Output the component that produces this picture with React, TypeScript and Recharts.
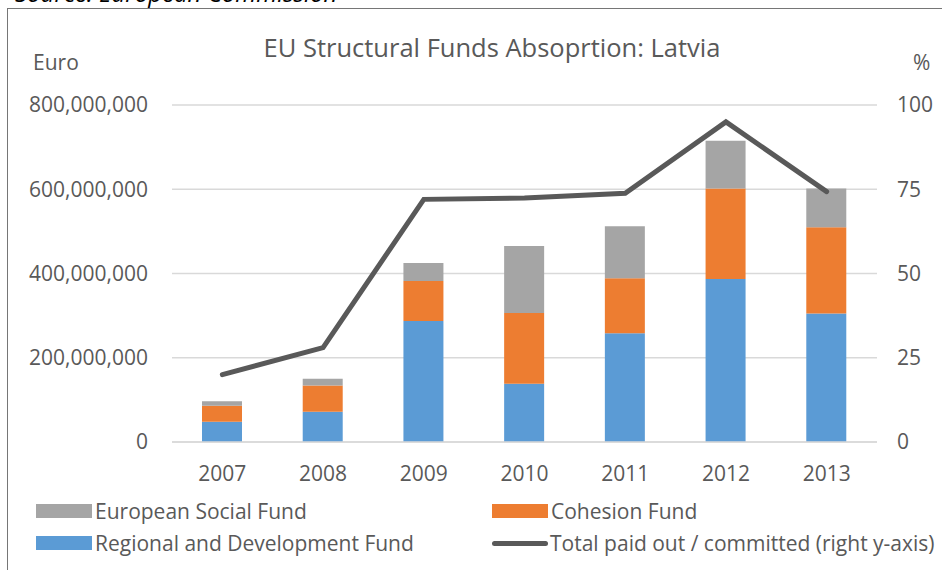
import React from "react";
import {
  ComposedChart,
  Bar,
  Line,
  XAxis,
  YAxis,
  CartesianGrid,
} from "recharts";

const years = ["2007", "2008", "2009", "2010", "2011", "2012", "2013"];
// euro, millions
const regionalFund = [48, 72, 287, 138, 258, 387, 305];
const cohesionFund = [38, 62, 95, 168, 131, 215, 205];
const socialFund = [11, 16, 43, 159, 123, 113, 92];
// percent paid out / committed
const paidShare = [20, 28, 72, 72.4, 73.8, 95, 74.3];

const euroTicks = [0, 200e6, 400e6, 600e6, 800e6];
const pctTicks = [0, 25, 50, 75, 100];

const FONT = "'Open Sans', sans-serif";
const TEXT = "#595959";
const BLUE = "#5B9BD5";
const ORANGE = "#ED7D31";
const GREY = "#A5A5A5";
const LINE = "#595959";
const FS = 21;

const data = years.map((year, i) => ({
  year,
  regional: regionalFund[i] * 1e6,
  cohesion: cohesionFund[i] * 1e6,
  social: socialFund[i] * 1e6,
  paid: paidShare[i],
}));

const legendRows = [
  [
    { name: "European Social Fund", color: GREY, kind: "box" },
    { name: "Cohesion Fund", color: ORANGE, kind: "box" },
  ],
  [
    { name: "Regional and Development Fund", color: BLUE, kind: "box" },
    { name: "Total paid out / committed (right y-axis)", color: LINE, kind: "line" },
  ],
];

export default function App() {
  return (
    <div
      style={{
        position: "absolute",
        left: 0,
        top: 0,
        width: 942,
        height: 570,
        overflow: "hidden",
        background: "#fff",
        fontFamily: FONT,
      }}
    >
      {/* source line sits mostly above the crop, as in the original */}
      <div
        style={{
          position: "absolute",
          left: 15,
          top: -24,
          fontSize: 24,
          fontStyle: "italic",
          color: "#000",
          whiteSpace: "nowrap",
        }}
      >
        Source: European Commission
      </div>
      <div
        style={{
          position: "absolute",
          left: 7,
          top: 8,
          width: 960,
          height: 600,
          border: "1px solid #767676",
        }}
      />
      <div style={{ position: "absolute", left: 0, top: 0 }}>
        <ComposedChart
          width={942}
          height={570}
          data={data}
          margin={{ top: 105, right: 0, bottom: 88, left: 0 }}
          barSize={40}
        >
          <CartesianGrid vertical={false} stroke="#D9D9D9" strokeWidth={1.5} yAxisId="euro" />
          <XAxis
            dataKey="year"
            axisLine={{ stroke: "#D9D9D9", strokeWidth: 1.5 }}
            tickLine={false}
            tickSize={0}
            tickMargin={24}
            height={40}
            tick={{ fill: TEXT, fontSize: FS, fontFamily: FONT }}
          />
          <YAxis
            yAxisId="euro"
            orientation="left"
            width={172}
            domain={[0, 800e6]}
            ticks={euroTicks}
            axisLine={false}
            tickLine={false}
            tickSize={0}
            tickMargin={24}
            tickFormatter={(v: number) => v.toLocaleString("en-US")}
            tick={{ fill: TEXT, fontSize: FS, fontFamily: FONT }}
          />
          <YAxis
            yAxisId="pct"
            orientation="right"
            width={65}
            domain={[0, 100]}
            ticks={pctTicks}
            axisLine={false}
            tickLine={false}
            tickSize={0}
            tickMargin={20}
            tick={{ fill: TEXT, fontSize: FS, fontFamily: FONT }}
          />
          <Bar yAxisId="euro" dataKey="regional" stackId="f" fill={BLUE} isAnimationActive={false} />
          <Bar yAxisId="euro" dataKey="cohesion" stackId="f" fill={ORANGE} isAnimationActive={false} />
          <Bar yAxisId="euro" dataKey="social" stackId="f" fill={GREY} isAnimationActive={false} />
          <Line
            yAxisId="pct"
            dataKey="paid"
            stroke={LINE}
            strokeWidth={5}
            strokeLinecap="round"
            dot={false}
            activeDot={false}
            isAnimationActive={false}
          />
        </ComposedChart>
      </div>
      <div
        style={{
          position: "absolute",
          left: 0,
          width: 984,
          top: 30,
          textAlign: "center",
          fontSize: 25.5,
          color: TEXT,
          whiteSpace: "nowrap",
        }}
      >
        EU Structural Funds Absoprtion: Latvia
      </div>
      <div style={{ position: "absolute", left: 33, top: 48, fontSize: FS, color: TEXT }}>Euro</div>
      <div style={{ position: "absolute", left: 913, top: 48, fontSize: FS, color: TEXT }}>%</div>
      {legendRows.map((row, r) =>
        row.map((item, c) => (
          <div
            key={item.name}
            style={{
              position: "absolute",
              left: c === 0 ? 36 : 492,
              top: 497 + r * 32,
              height: 28,
              display: "flex",
              alignItems: "center",
              fontSize: FS,
              color: TEXT,
              whiteSpace: "nowrap",
            }}
          >
            {item.kind === "box" ? (
              <span style={{ display: "inline-block", width: 56, height: 14, background: item.color, marginRight: 3 }} />
            ) : (
              <span
                style={{
                  display: "inline-block",
                  width: 56,
                  height: 5,
                  borderRadius: 3,
                  background: item.color,
                  marginRight: 2,
                }}
              />
            )}
            {item.name}
          </div>
        ))
      )}
    </div>
  );
}
